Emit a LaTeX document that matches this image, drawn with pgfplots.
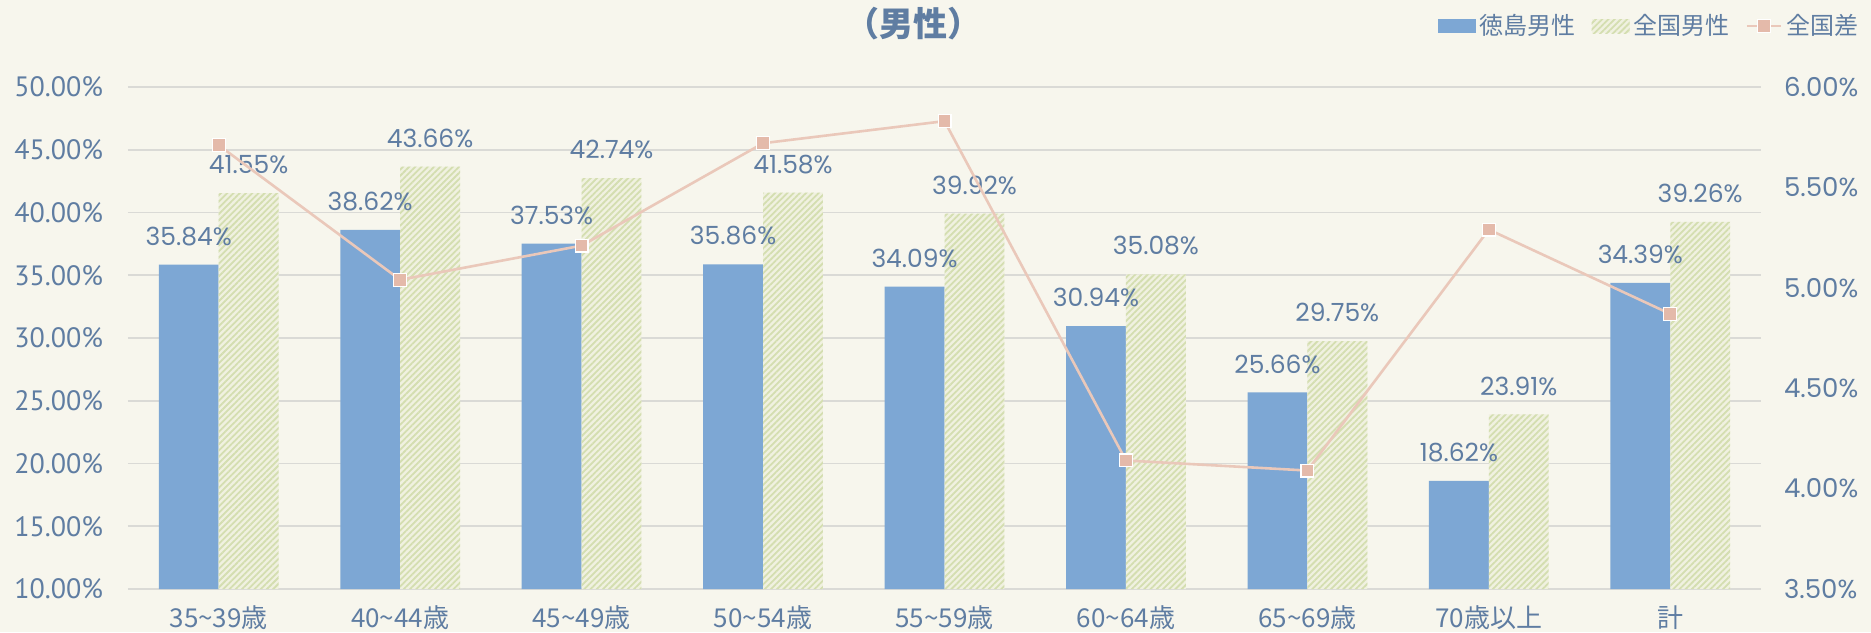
\documentclass[border=0pt]{standalone}
\usepackage{fontspec}
\setmainfont{Poppins}
\newfontfamily\jp{Noto Sans CJK JP}
\newfontfamily\narrow{PT Sans}
\usepackage{pgfplots}
\usepackage{pgfplotstable}
\pgfplotsset{compat=1.18}
\usetikzlibrary{patterns.meta}

\definecolor{bg}{RGB}{247,246,237}
\definecolor{tblue}{RGB}{125,167,212}
\definecolor{txt}{RGB}{95,125,162}
\definecolor{gbase}{RGB}{240,241,224}
\definecolor{gline}{RGB}{212,222,176}
\definecolor{lpink}{RGB}{234,200,186}
\definecolor{mpink}{RGB}{228,186,170}
\definecolor{gridc}{RGB}{218,218,214}

\pgfplotsset{
    barlegend/.style={legend image code/.code={\fill[##1] (0pt,-3.5pt) rectangle (19pt,3.5pt);}},
    hatch/.style={fill=gbase, postaction={pattern={Lines[angle=45,distance=2.2pt,line width=0.9pt]}, pattern color=gline}},
}

% 年齢階級別の率（徳島男性・全国男性）と全国差
\pgfplotstableread{
x tok nat diff
0 35.84 41.55 5.71
1 38.62 43.66 5.04
2 37.53 42.74 5.21
3 35.86 41.58 5.72
4 34.09 39.92 5.83
5 30.94 35.08 4.14
6 25.66 29.75 4.09
7 18.62 23.91 5.29
8 34.39 39.26 4.87
}\data

\begin{document}
\begin{tikzpicture}
\fill[bg, use as bounding box] (-64pt,-21.5pt) rectangle (871.5pt,294.5pt);

\begin{axis}[
    scale only axis, width=816.5pt, height=251pt,
    xmin=-0.5, xmax=8.5, ymin=10, ymax=50,
    ybar=0pt, bar width=0.33,
    xtick=data,
    xticklabels={35\textasciitilde39歳,40\textasciitilde44歳,45\textasciitilde49歳,50\textasciitilde54歳,55\textasciitilde59歳,60\textasciitilde64歳,65\textasciitilde69歳,70歳以上,計},
    ytick={10,15,...,50},
    yticklabels={10.00\%,15.00\%,20.00\%,25.00\%,30.00\%,35.00\%,40.00\%,45.00\%,50.00\%},
    axis line style={draw=none},
    major tick length=0pt,
    ymajorgrids, grid style={gridc, line width=0.8pt},
    tick label style={text=txt},
    yticklabel style={font=\narrow\fontsize{14}{15}\selectfont, xshift=-9pt},
    xticklabel style={font=\jp\fontsize{13}{14}\selectfont, yshift=-5pt},
    /pgf/number format/assume math mode=true,
    nodes near coords={\pgfmathprintnumber[fixed,fixed zerofill,precision=2]{\pgfplotspointmeta}\%},
    every node near coord/.append style={font=\fontsize{12.5}{13}\selectfont, text=txt, anchor=south, yshift=6pt},
]
\addplot[draw=none, fill=tblue] table[x=x, y=tok] {\data};
\addplot[draw=none, hatch] table[x=x, y=nat] {\data};
\end{axis}

\begin{axis}[
    scale only axis, width=816.5pt, height=251pt,
    xmin=-0.5, xmax=8.5, ymin=3.5, ymax=6,
    axis y line*=right, axis x line=none,
    axis line style={draw=none},
    major tick length=0pt,
    ytick={3.5,4,...,6},
    yticklabels={3.50\%,4.00\%,4.50\%,5.00\%,5.50\%,6.00\%},
    yticklabel style={font=\fontsize{13}{14}\selectfont, text=txt, xshift=8pt},
    legend style={at={(1.066,1.1215)}, anchor=east, draw=none, fill=none,
        font=\jp\fontsize{12}{13}\selectfont, text=txt,
        legend columns=-1, /tikz/every even column/.append style={column sep=6pt}},
]
\addlegendimage{draw=none, fill=tblue, barlegend}
\addlegendentry{徳島男性}
\addlegendimage{draw=none, hatch, barlegend}
\addlegendentry{全国男性}
\addplot[lpink, line width=1.3pt, mark=square*, mark size=3.2pt, mark options={fill=mpink, draw=white, line width=0.6pt}] table[x=x, y=diff] {\data};
\addlegendentry{全国差}
\end{axis}
\node[font=\jp\bfseries\fontsize{17}{18}\selectfont, text=txt] at (392.5pt,282.5pt) {（男性）};
\end{tikzpicture}
\end{document}
